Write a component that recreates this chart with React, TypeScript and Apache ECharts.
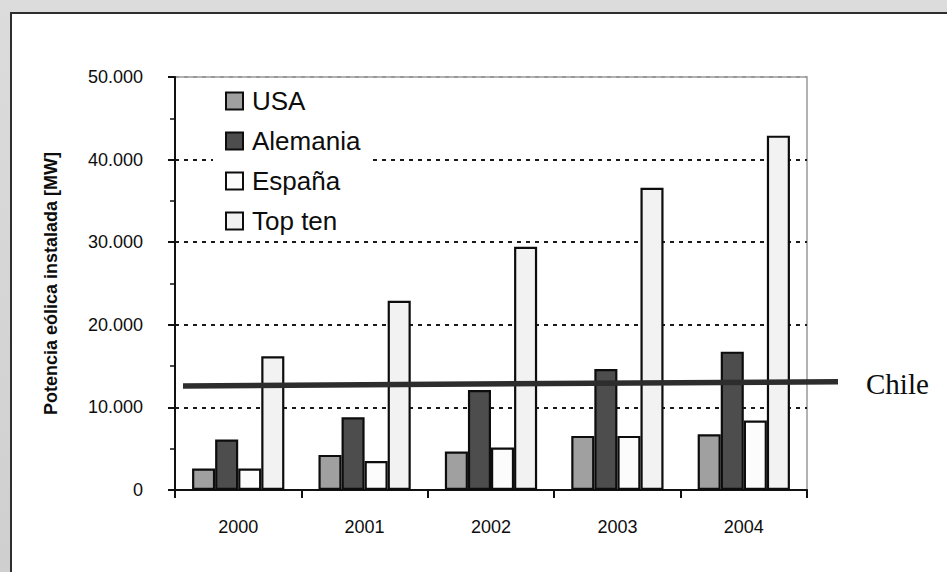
import React, { useEffect, useRef } from "react";
import * as echarts from "echarts";

const years = ["2000", "2001", "2002", "2003", "2004"];
const usa = [2600, 4250, 4650, 6550, 6750];
const alemania = [6100, 8800, 12100, 14650, 16750];
const espana = [2600, 3500, 5150, 6550, 8400];
const topTen = [16200, 22900, 29450, 36600, 42900];
const yTickLabels = ["0", "10.000", "20.000", "30.000", "40.000", "50.000"];
const chileStart = 12600;
const chileEnd = 13100;
const chileLabel = "Chile";
const yTitle = "Potencia eólica instalada [MW]";

const seriesNames = ["USA", "Alemania", "España", "Top ten"];
const seriesColors = ["#a0a0a0", "#4d4d4d", "#fcfcfc", "#f2f2f2"];

export default function App() {
  const ref = useRef<HTMLDivElement>(null);
  useEffect(() => {
    if (!ref.current) return;
    const chart = echarts.init(ref.current, undefined, { renderer: "svg" });
    const gridLeft = 175;
    const gridRight = 140;
    const font = "Liberation Sans, Arial, sans-serif";
    const data = [usa, alemania, espana, topTen];
    chart.setOption({
      animation: false,
      backgroundColor: "transparent",
      textStyle: { fontFamily: font },
      grid: {
        left: gridLeft,
        right: gridRight,
        top: 77,
        bottom: 82,
        show: true,
        borderColor: "#999",
        borderWidth: 1.5,
        backgroundColor: "transparent",
        outerBoundsMode: "none",
      },
      legend: {
        left: 213,
        top: 82,
        orient: "vertical",
        padding: [6, 8, 1, 12],
        backgroundColor: "#ffffff",
        itemWidth: 17,
        itemHeight: 17,
        itemGap: 14,
        icon: "rect",
        textStyle: {
          fontSize: 26,
          lineHeight: 26,
          color: "#0d0d0d",
          fontFamily: font,
          padding: [0, 0, 0, 4],
        },
        data: seriesNames,
      },
      xAxis: {
        type: "category",
        data: years,
        axisLine: { lineStyle: { color: "#111", width: 2 } },
        axisTick: { show: true, length: 8, lineStyle: { color: "#111", width: 2 } },
        axisLabel: { fontSize: 18, color: "#0d0d0d", margin: 28, fontFamily: font },
        splitLine: { show: false },
      },
      yAxis: {
        type: "value",
        min: 0,
        max: 50000,
        interval: 10000,
        name: yTitle,
        nameLocation: "middle",
        nameRotate: 90,
        nameGap: 115,
        nameTextStyle: { fontSize: 18, fontWeight: "bold", color: "#0d0d0d", fontFamily: font },
        axisLine: { show: true, lineStyle: { color: "#111", width: 2 } },
        axisTick: { show: true, length: 7, lineStyle: { color: "#111", width: 2 } },
        minorTick: { show: true, splitNumber: 2, length: 5, lineStyle: { color: "#111", width: 1.5 } },
        axisLabel: {
          fontSize: 18,
          color: "#0d0d0d",
          margin: 32,
          fontFamily: font,
          formatter: (v: number) => yTickLabels[Math.round(v / 10000)] ?? "",
        },
        splitLine: {
          show: true,
          lineStyle: {
            color: ["transparent", "#1a1a1a", "#1a1a1a", "#1a1a1a", "#1a1a1a", "#999"],
            width: 1.8,
            type: [4, 5],
          },
        },
      },
      series: seriesNames.map((name, i) => ({
        name,
        type: "bar",
        data: data[i],
        barGap: "0%",
        barCategoryGap: "27%",
        itemStyle: { color: seriesColors[i], borderColor: "#0d0d0d", borderWidth: 2.2 },
        z: 2,
      })),
    });

    const y1 = chart.convertToPixel({ yAxisIndex: 0 }, chileStart) as number;
    const y2 = chart.convertToPixel({ yAxisIndex: 0 }, chileEnd) as number;
    const xStart = gridLeft + 8;
    const xEnd = 947 - gridRight + 31;
    chart.setOption({
      graphic: [
        {
          type: "line",
          z: 100,
          shape: { x1: xStart, y1, x2: xEnd, y2 },
          style: { stroke: "#2d2d2d", lineWidth: 5.5 },
        },
        {
          type: "text",
          z: 100,
          x: xEnd + 28,
          y: y2 + 2,
          style: {
            text: chileLabel,
            fontFamily: "Liberation Serif, Times New Roman, serif",
            fontSize: 29,
            fill: "#0d0d0d",
            verticalAlign: "middle",
            align: "left",
          },
        },
      ],
    });
    return () => chart.dispose();
  }, []);

  return (
    <div
      style={{
        position: "fixed",
        left: 0,
        top: 0,
        width: 947,
        height: 572,
        overflow: "hidden",
        background: "linear-gradient(180deg, #dcdcdc 0%, #cfcfcf 100%)",
      }}
    >
      <div
        style={{
          position: "absolute",
          left: 10,
          top: 12,
          width: 1000,
          height: 700,
          background: "#ffffff",
          borderLeft: "2px solid #2e2e2e",
          borderTop: "2px solid #2e2e2e",
        }}
      />
      <div ref={ref} style={{ position: "absolute", left: 0, top: 0, width: 947, height: 572 }} />
    </div>
  );
}
